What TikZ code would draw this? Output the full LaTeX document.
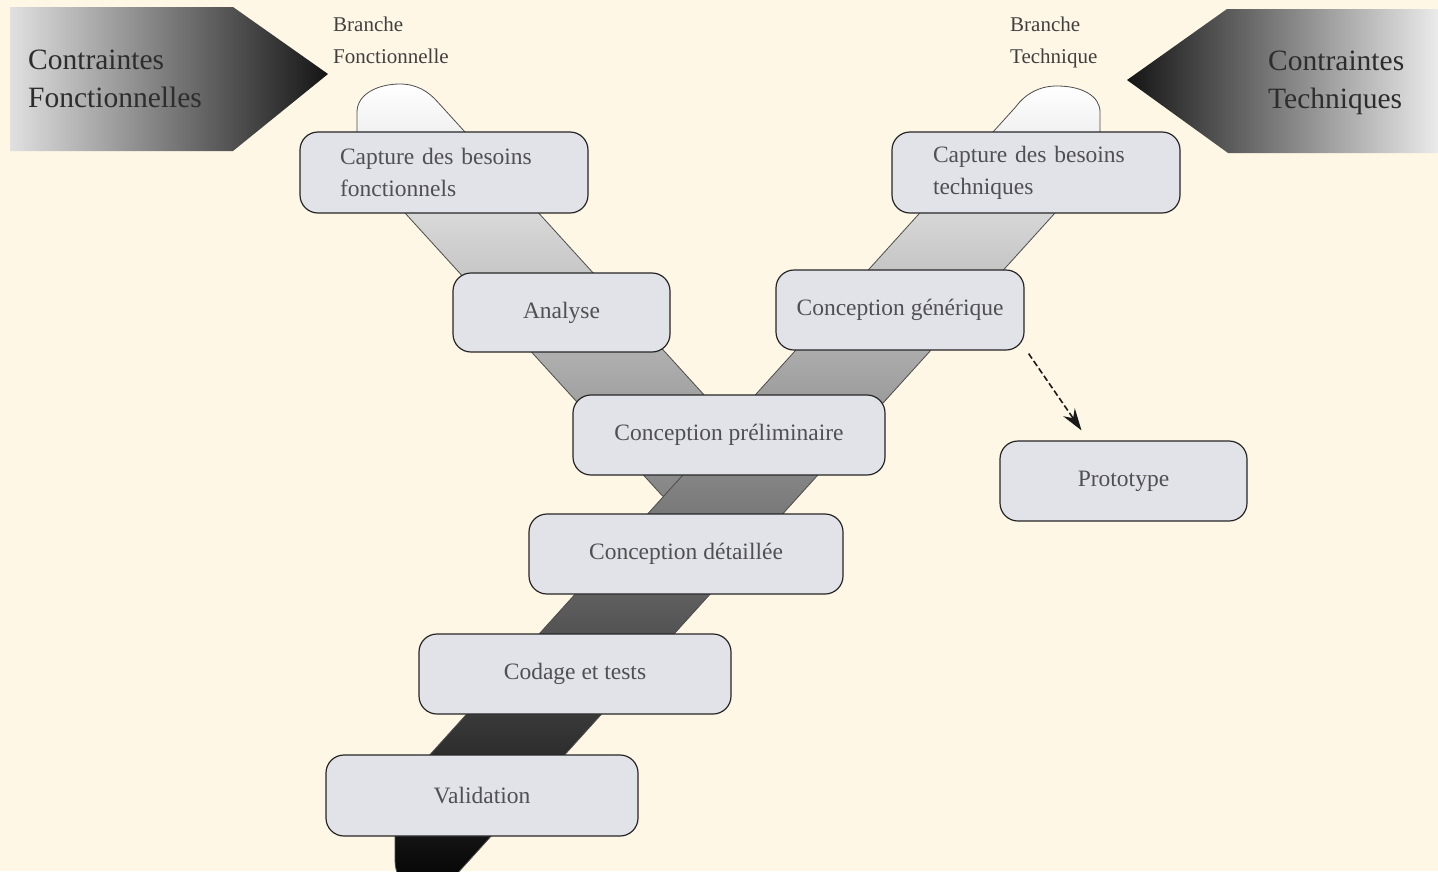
\documentclass[tikz,border=0pt]{standalone}
\usepackage{fontspec}
\setmainfont{Liberation Serif}
\usetikzlibrary{arrows.meta}
\definecolor{bgcream}{RGB}{255,247,230}
\definecolor{boxfill}{RGB}{226,227,232}
\definecolor{boxtext}{RGB}{80,80,84}
\definecolor{darktext}{RGB}{45,45,45}
\begin{document}
\begin{tikzpicture}[x=1pt,y=-1pt,
  stage/.style={draw=black!85, line width=1.2pt, fill=boxfill, rounded corners=18pt,
    text=boxtext, font=\fontsize{23.5}{32}\selectfont, inner sep=0pt, align=left},
  band/.style={draw=black!70, line width=0.8pt},
  constraint/.style={inner sep=0pt, align=left, text=darktext, font=\fontsize{29.5}{38}\selectfont, anchor=west},
  branchlabel/.style={inner sep=0pt, align=left, text=black!75, font=\fontsize{21}{32}\selectfont, anchor=west},
  dasharrow/.style={draw=black!90, line width=1.6pt, dash pattern=on 6pt off 3pt, -{Stealth[length=22pt,width=14pt]}}
]
% page and background
\useasboundingbox (0,0) rectangle (1438,871);
\fill[bgcream] (0,0) rectangle (1438,871);
\clip (0,0) rectangle (1438,871);

% constraint arrows
\shade[left color=black!12, right color=black!92]
  (10,7) -- (233,7) -- (328,74) -- (233,151) -- (10,151) -- cycle;
\shade[left color=black!92, right color=black!8]
  (1127,80) -- (1227,9) -- (1438,9) -- (1438,153) -- (1228,153) -- cycle;
\node[constraint] (cf) at (28,79) {Contraintes\\Fonctionnelles};
\node[constraint] (ct) at (1268,83) {Contraintes\\Techniques};

% branch labels
\node[branchlabel] (lf) at (333,40) {Branche\\Fonctionnelle};
\node[branchlabel] (lt) at (1010,42) {Branche\\Technique};

% functional branch band
\shade[band, top color=white, bottom color=black!48]
  (357,140) -- (357,112) .. controls (357,94) and (378,84) .. (400,84)
  .. controls (417,84) and (429,92) .. (437.7,102)
  -- (796,496) -- (662.5,496) -- (405,213) -- cycle;

% technical branch band and stem
\shade[band, top color=white, bottom color=black]
  (1015.6,107) .. controls (1026,93) and (1040,86) .. (1057,86)
  .. controls (1082,86) and (1100,96) .. (1100,112)
  -- (1100,140) -- (1055,213) -- (451.4,880)
  .. controls (440,893) and (425,897) .. (412,890)
  .. controls (400,883) and (395,872) .. (395,860)
  -- (395,830) -- (389,800) -- cycle;

% stages
\node[stage, minimum width=288pt, minimum height=81pt, text width=208pt] (capf) at (444,172.5) {Capture des besoins\\fonctionnels};
\node[stage, minimum width=217pt, minimum height=79pt] (ana) at (561.5,312.5) {Analyse};
\node[stage, minimum width=288pt, minimum height=81pt, text width=206pt] (capt) at (1036,172.5) {Capture des besoins\\techniques};
\node[stage, minimum width=248pt, minimum height=80pt] (gen) at (900,310) {Conception générique};
\node[stage, minimum width=312pt, minimum height=80pt] (prelim) at (729,435) {Conception préliminaire};
\node[stage, minimum width=247pt, minimum height=80pt] (proto) at (1123.5,481) {Prototype};
\node[stage, minimum width=314pt, minimum height=80pt] (detail) at (686,554) {Conception détaillée};
\node[stage, minimum width=312pt, minimum height=80pt] (code) at (575,674) {Codage et tests};
\node[stage, minimum width=312pt, minimum height=81pt] (valid) at (482,795.5) {Validation};

% prototype link
\draw[dasharrow] ([shift={(4,3)}]gen.south east) -- ([shift={(-42,-10)}]proto.north);
\end{tikzpicture}
\end{document}
